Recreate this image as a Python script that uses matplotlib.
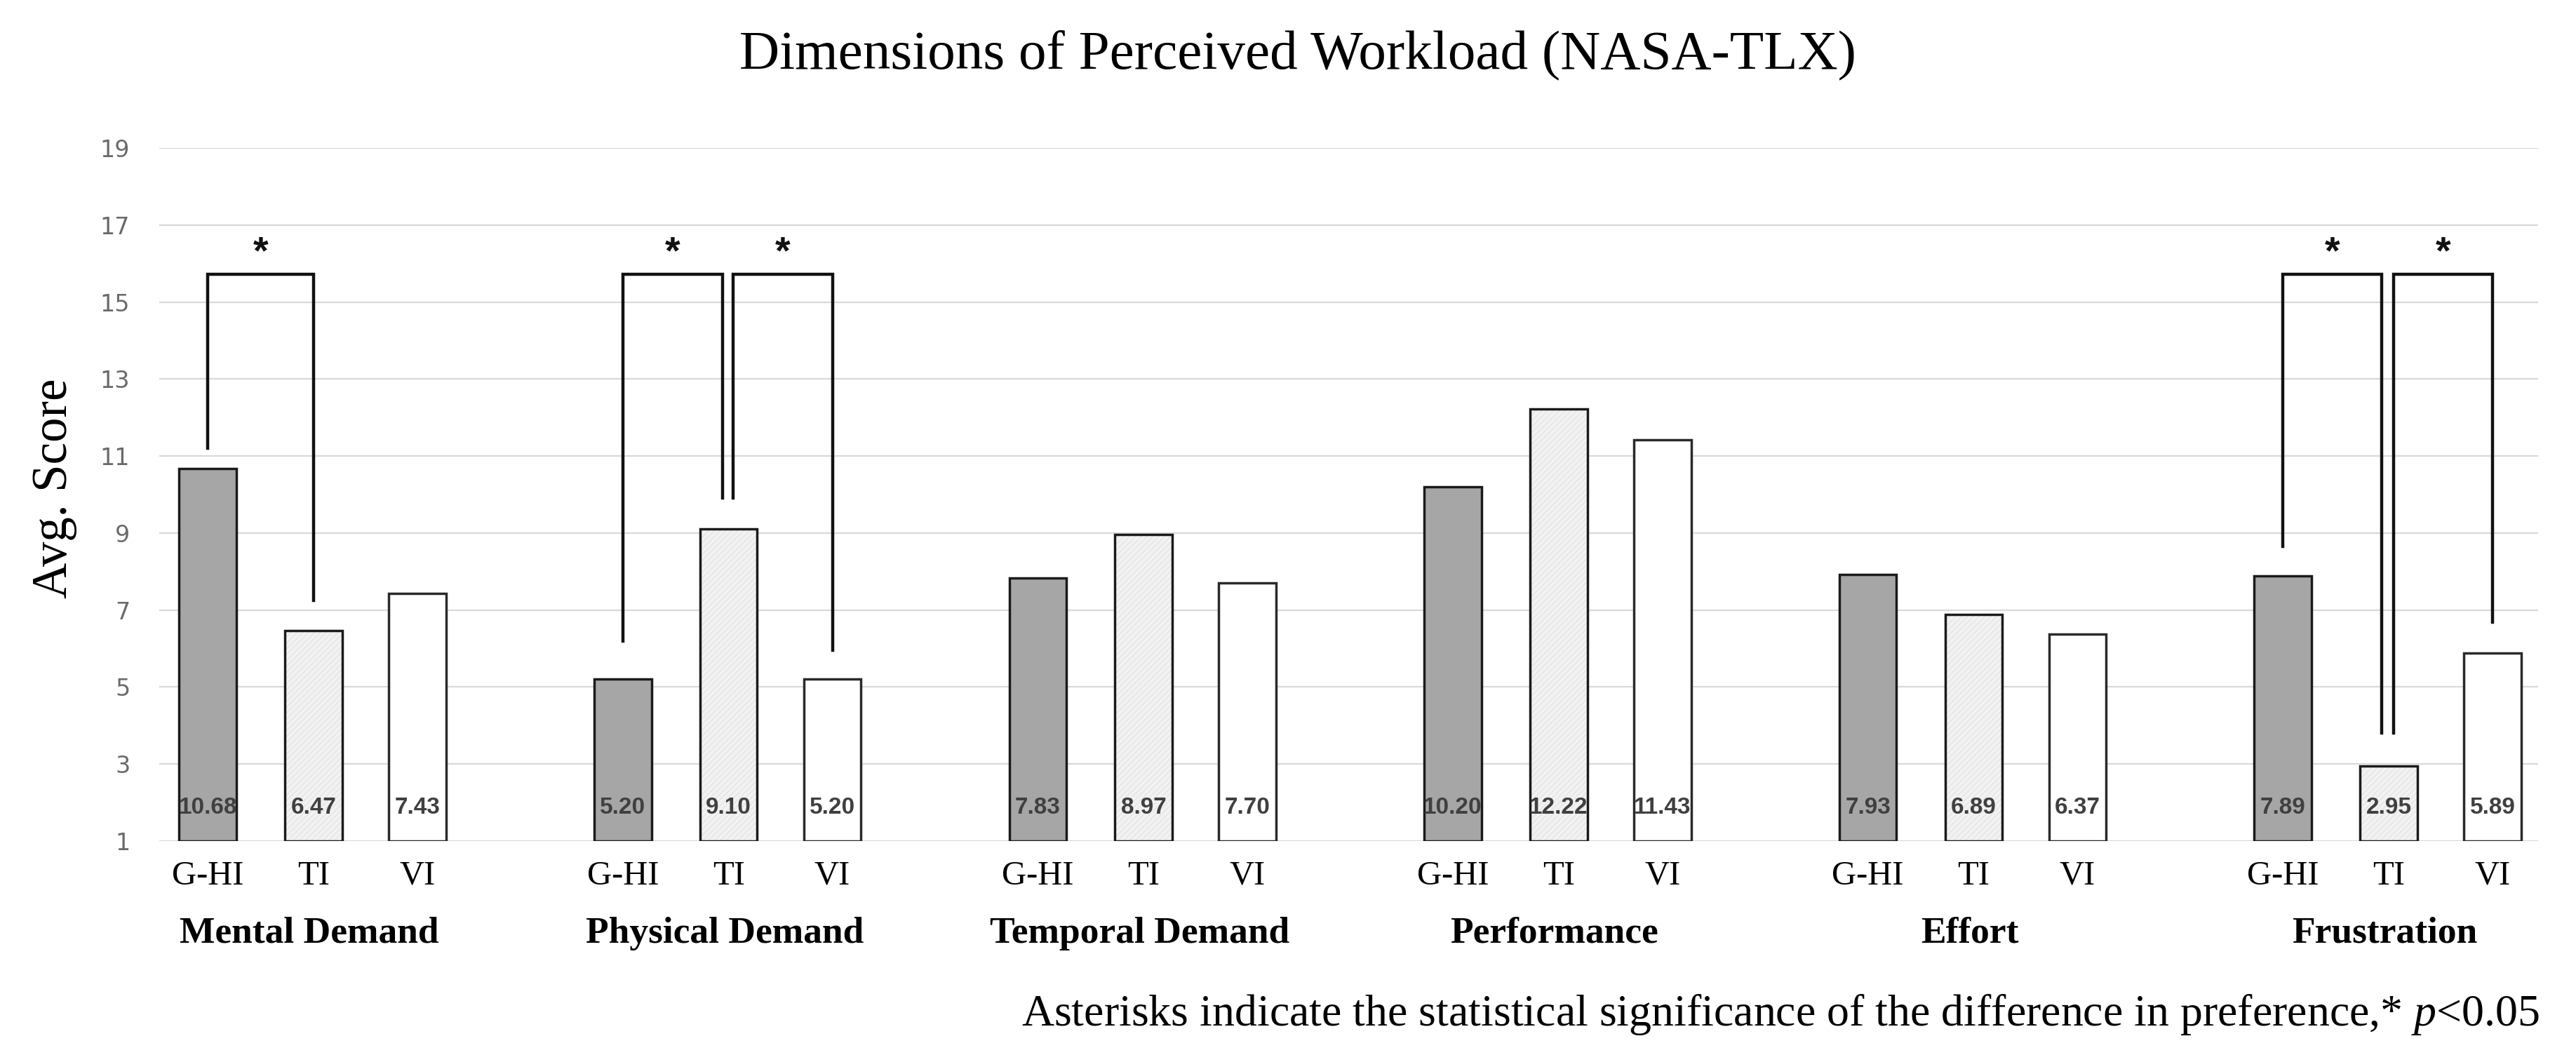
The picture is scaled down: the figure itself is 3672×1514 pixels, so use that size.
import numpy as np
import matplotlib
matplotlib.use("Agg")
import matplotlib.pyplot as plt

plt.rcParams['font.family'] = ['Liberation Serif', 'DejaVu Serif']
plt.rcParams['mathtext.fontset'] = 'custom'
plt.rcParams['mathtext.rm'] = 'Liberation Serif'
plt.rcParams['mathtext.it'] = 'Liberation Serif:italic'
plt.rcParams['hatch.linewidth'] = 1.0

# datos
categorias = ["Mental Demand", "Physical Demand", "Temporal Demand",
              "Performance", "Effort", "Frustration"]
grupos = ["G-HI", "TI", "VI"]
g_hi = [10.68, 5.20, 7.83, 10.20, 7.93, 7.89]
ti = [6.47, 9.10, 8.97, 12.22, 6.89, 2.95]
vi = [7.43, 5.20, 7.70, 11.43, 6.37, 5.89]
yticks = [1, 3, 5, 7, 9, 11, 13, 15, 17, 19]

# corchetes de significancia: categoria, barra izq, barra der, y inferior izq, y inferior der
brk_cat = [0, 1, 1, 5, 5]
brk_par = [(0, 1), (0, 1), (1, 2), (0, 1), (1, 2)]
brk_izq = [11.2, 6.19, 9.9, 8.65, 3.8]
brk_der = [7.25, 9.9, 5.96, 3.8, 6.69]
brk_top = 15.72

titulo = "Dimensions of Perceived Workload (NASA-TLX)"
nota = "Asterisks indicate the statistical significance of the difference in preference,* $\\mathit{p}$<0.05"

offsets = [-0.255, 0.0, 0.25]
ancho = 0.138
x = np.arange(len(categorias))

fig = plt.figure(figsize=(36.72, 15.14), dpi=100)
ax = fig.add_axes([227/3672, 1-1199/1514, (3618-227)/3672, (1199-211)/1514])

series = [g_hi, ti, vi]
for i, vals in enumerate(series):
    xs = x + offsets[i]
    h = np.array(vals) - 1
    if i == 0:
        ax.bar(xs, h, ancho, bottom=1, color="#a6a6a6", edgecolor="#1a1a1a", linewidth=2.5, zorder=3)
    elif i == 1:
        ax.bar(xs, h, ancho, bottom=1, color="#f2f2f2", edgecolor="#e4e4e4", hatch="////", linewidth=0, zorder=3)
        ax.bar(xs, h, ancho, bottom=1, fill=False, edgecolor="#1a1a1a", linewidth=2.5, zorder=4)
    else:
        ax.bar(xs, h, ancho, bottom=1, color="white", edgecolor="#2a2a2a", linewidth=2.5, zorder=3)
    for xx, v in zip(xs, vals):
        ax.text(xx, 1.87, "{:.2f}".format(v), ha="center", va="center",
                family="Liberation Sans", fontweight="bold", fontsize=24,
                color="#404040", zorder=5)

# corchetes
for k in range(len(brk_cat)):
    c = brk_cat[k]
    a, b = brk_par[k]
    xa = c + offsets[a]
    xb = c + offsets[b]
    if a == 1:
        xa += 0.011
    if b == 1 and c != 0:
        xb -= 0.017 if c == 5 else 0.014
    ax.plot([xa, xa, xb, xb], [brk_izq[k], brk_top, brk_top, brk_der[k]],
            color="#111111", linewidth=3.2, solid_joinstyle="miter", zorder=6)
    ax.text((xa + xb) / 2, 16.0, "*", ha="center", va="baseline",
            family="Liberation Sans", fontweight="bold", fontsize=40, color="#111111", zorder=6)

ax.set_xlim(-0.372, 5.36)
ax.set_ylim(1, 19)
ax.set_yticks(yticks)
ax.grid(axis="y", color="#d9d9d9", linewidth=1.6, zorder=0)
ax.set_axisbelow(True)
for s in ax.spines.values():
    s.set_visible(False)

xt = np.concatenate([x + o for o in offsets])
xl = [grupos[0]] * 6 + [grupos[1]] * 6 + [grupos[2]] * 6
ax.set_xticks(xt)
ax.set_xticklabels(xl, fontsize=35)
ax.tick_params(axis="x", length=0, pad=20)
ax.tick_params(axis="y", length=0, pad=30, labelsize=24, labelcolor="#6a6a6a")
for lab in ax.get_yticklabels():
    lab.set_family("DejaVu Sans")

for i, cat in enumerate(categorias):
    ax.text(x[i] - 0.01, -0.1336, cat, transform=ax.get_xaxis_transform(),
            ha="center", va="center", fontsize=38.5, fontweight="bold")

fig.text(77/3672, 1-696/1514, "Avg. Score", rotation=90, ha="center", va="center", fontsize=51)
fig.text(1850/3672, 1-78/1514, titulo, ha="center", va="center", fontsize=57)
fig.text(3620/3672, 1-1447/1514, nota, ha="right", va="center", fontsize=46)

plt.savefig("out.png", dpi=100)
